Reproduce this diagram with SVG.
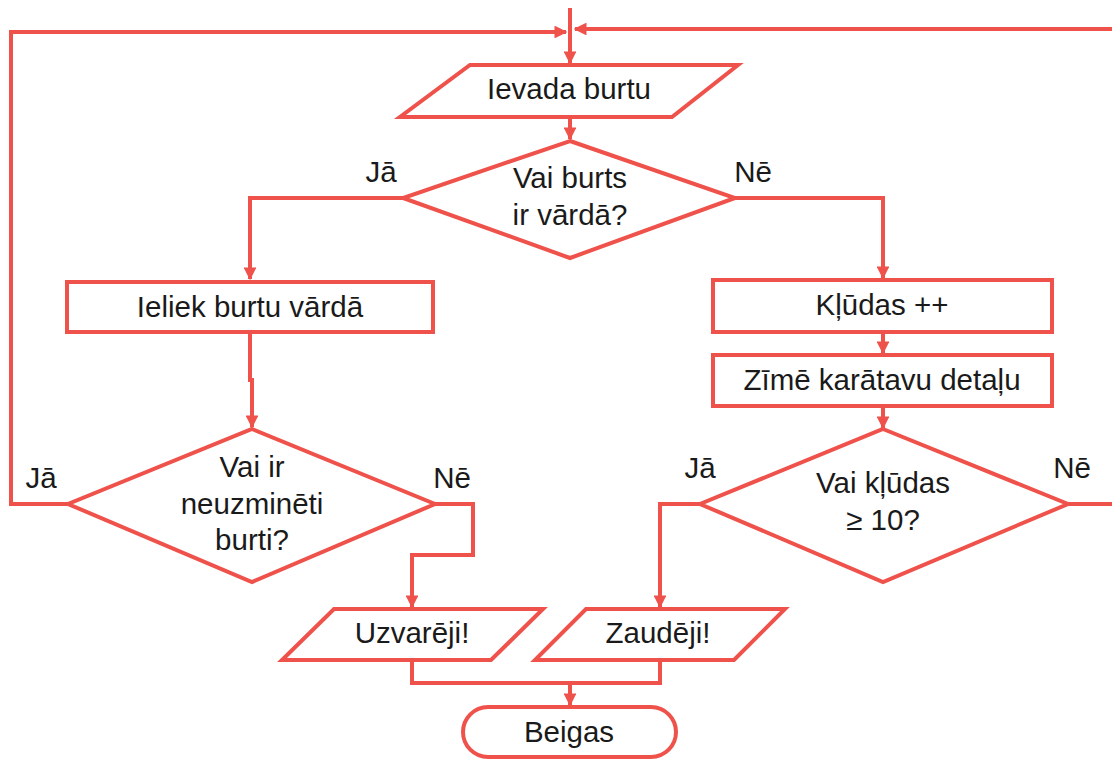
<svg xmlns="http://www.w3.org/2000/svg" width="1112" height="759" viewBox="0 0 1112 759">
<style>
.s{fill:#fff;stroke:#EF524B;stroke-width:4}
.c{fill:none;stroke:#EF524B;stroke-width:4}
.a{marker-end:url(#ah)}
text{font-family:"Liberation Sans",Arial,sans-serif;font-size:29.5px;fill:#1a1a1a;text-anchor:middle}
</style>
<defs>
<marker id="ah" viewBox="0 0 10 10" refX="9" refY="5" markerWidth="3.2" markerHeight="3.2" orient="auto" markerUnits="strokeWidth">
<path d="M0,0 L10,5 L0,10 Z" fill="#EF524B"/>
</marker>
</defs>
<rect width="1112" height="759" fill="#fff"/>
<g id="connectors">
<polyline class="c a" points="68,504 11,504 11,32 566,32"/>
<line class="c" x1="1068" y1="504" x2="1112" y2="504"/>
<line class="c a" x1="1112" y1="29" x2="575" y2="29"/>
<line class="c a" x1="570" y1="8" x2="570" y2="63"/>
<line class="c a" x1="570" y1="117" x2="570" y2="139"/>
<polyline class="c a" points="403,198 250,198 250,279"/>
<polyline class="c a" points="735,198 883,198 883,278"/>
<line class="c a" x1="883" y1="332" x2="883" y2="353"/>
<line class="c a" x1="883" y1="406" x2="883" y2="428"/>
<polyline class="c a" points="250,333 250,380 252,380 252,427"/>
<polyline class="c a" points="435,504 473,504 473,555 412,555 412,607"/>
<polyline class="c a" points="700,504 660,504 660,607"/>
<polyline class="c" points="412,660 412,683 660,683 660,660"/>
<line class="c a" x1="570" y1="683" x2="570" y2="705"/>
</g>
<g id="n_input">
<polygon class="s" points="470,65 738,65 672,117 400,117"/>
<text x="569" y="99">Ievada burtu</text>
</g>
<g id="n_dec1">
<polygon class="s" points="570,141 735,198 570,258 403,198"/>
<text x="570" y="188">Vai burts</text>
<text x="570" y="225">ir vārdā?</text>
<text x="381" y="182">Jā</text>
<text x="753" y="182">Nē</text>
</g>
<g id="n_put">
<rect class="s" x="67" y="282" width="366" height="50"/>
<text x="250" y="317">Ieliek burtu vārdā</text>
</g>
<g id="n_err">
<rect class="s" x="713" y="280" width="339" height="52"/>
<text x="882" y="315">Kļūdas ++</text>
</g>
<g id="n_draw">
<rect class="s" x="713" y="355" width="339" height="51"/>
<text x="882" y="390">Zīmē karātavu detaļu</text>
</g>
<g id="n_dec2">
<polygon class="s" points="252,429 435,504 252,582 68,504"/>
<text x="252" y="477">Vai ir</text>
<text x="252" y="514">neuzminēti</text>
<text x="252" y="550">burti?</text>
<text x="41" y="488">Jā</text>
<text x="452" y="488">Nē</text>
</g>
<g id="n_dec3">
<polygon class="s" points="883,429 1068,504 883,582 700,504"/>
<text x="883" y="493">Vai kļūdas</text>
<text x="883" y="530">≥ 10?</text>
<text x="700" y="478">Jā</text>
<text x="1072" y="478">Nē</text>
</g>
<g id="n_win">
<polygon class="s" points="334,609 543,609 491,660 282,660"/>
<text x="412" y="643">Uzvarēji!</text>
</g>
<g id="n_lose">
<polygon class="s" points="586,609 785,609 734,660 535,660"/>
<text x="658" y="643">Zaudēji!</text>
</g>
<g id="n_end">
<rect class="s" x="463" y="707" width="213" height="50" rx="25"/>
<text x="569" y="742">Beigas</text>
</g>
</svg>
